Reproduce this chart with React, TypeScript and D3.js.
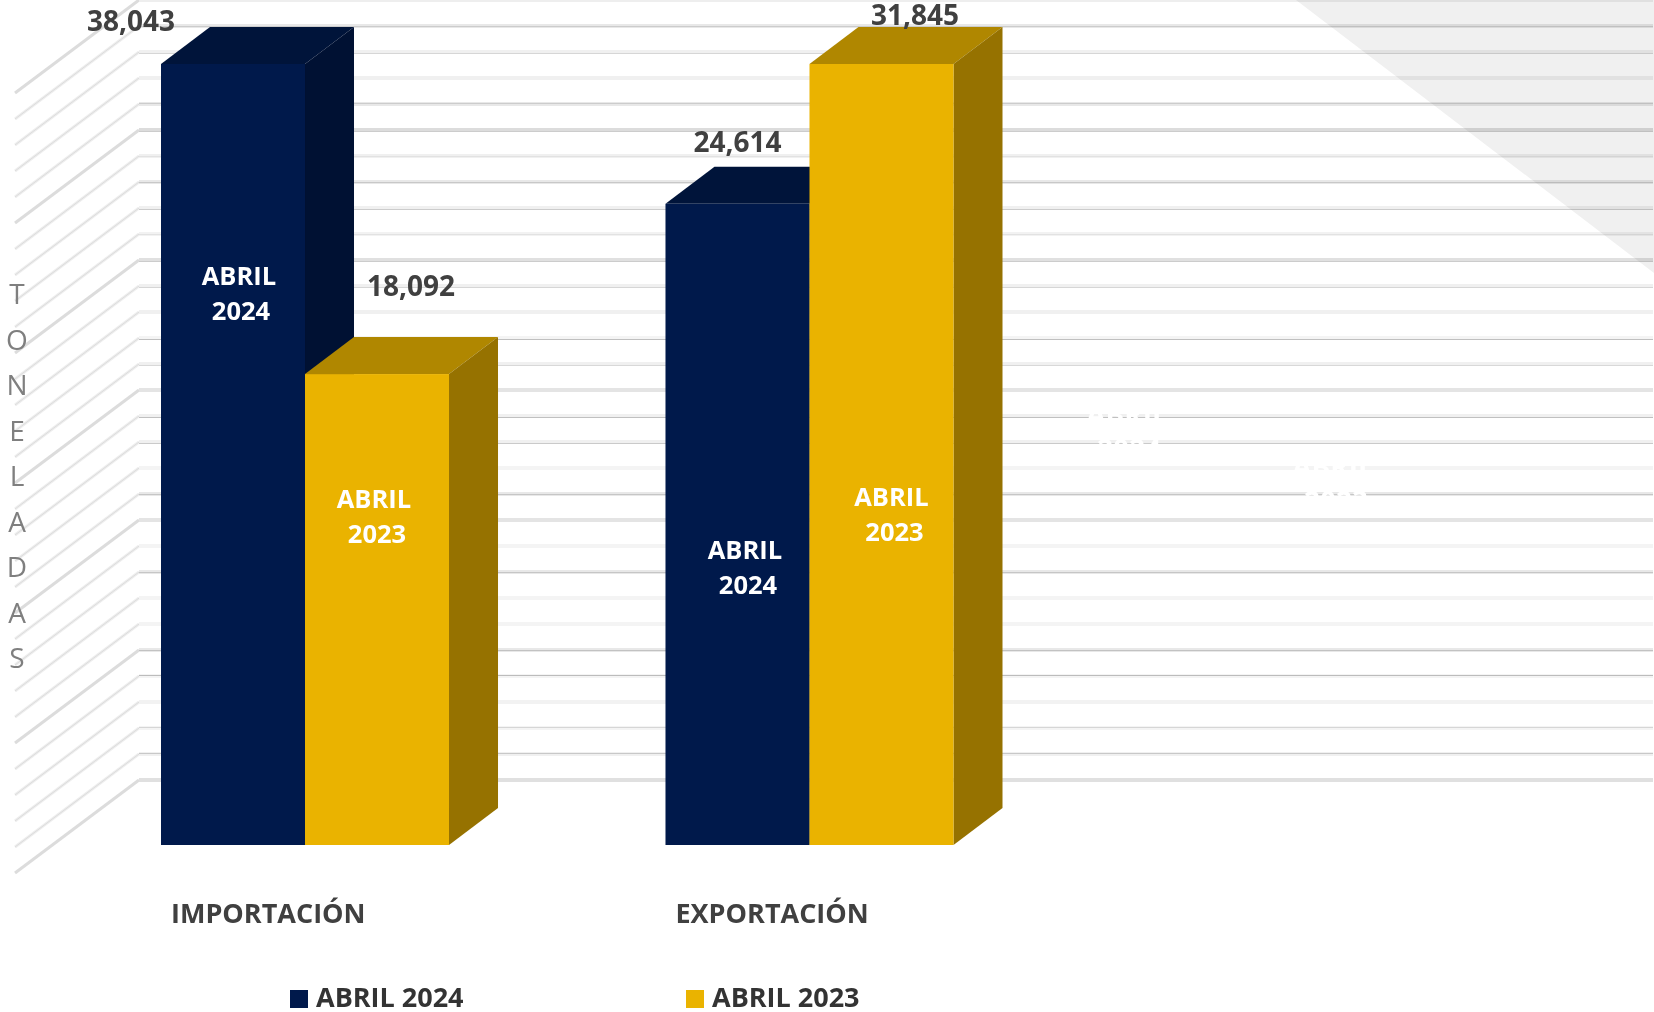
import React from "react";
import * as d3 from "d3";

const categories = ["IMPORTACIÓN", "EXPORTACIÓN"];
const seriesNames = ["ABRIL 2024", "ABRIL 2023"];

// printed values
const abril2024Labels = ["38,043", "24,614"];
const abril2023Labels = ["18,092", "31,845"];

// drawn height of each bar as % of the tallest one. The source picture does not
// draw the bars in proportion to the printed values, so these are read off it.
const abril2024Heights = [100, 82.1];
const abril2023Heights = [60.3, 100];

const axisTitle = ["T", "O", "N", "E", "L", "A", "D", "A", "S"];

const WIDTH = 1654;
const HEIGHT = 1012;
const FONT = "'Open Sans', sans-serif";
const TEXT = "#404040";
const DEPTH_X = 49;
const DEPTH_Y = 37;

const colors = [
  { front: "#00194b", top: "#00143a", side: "#001133" },
  { front: "#eab300", top: "#b08700", side: "#967200" },
];

// gridline look, top to bottom: band colour, line colour, line offset
const gridLook: [string, string, number][] = [
  ["#eeeeee", "", 0], ["#e8e8e8", "#cccccc", 0], ["#f0f0f0", "#d6d6d6", 1], ["#f0f0f0", "", 0],
  ["#e8e8e8", "#cccccc", -1], ["#dcdcdc", "#cccccc", 1], ["#f0f0f0", "#e2e2e2", 0], ["#e8e8e8", "#c8c8c8", 0],
  ["#f0f0f0", "#cccccc", 1], ["#f2f2f2", "#e2e2e2", 0], ["#e0e0e0", "#cccccc", 1], ["#f0f0f0", "#d6d6d6", 1],
  ["#f0f0f0", "", 0], ["#f4f4f4", "#c0c0c0", 1], ["#f0f0f0", "#d8d8d8", 1], ["#e4e4e4", "", 0],
  ["#f0f0f0", "#c0c0c0", 1], ["#f0f0f0", "#cacaca", 1], ["#f4f4f4", "", 0], ["#e8e8e8", "#c6c6c6", 0],
  ["#e4e4e4", "", 0], ["#f4f4f4", "", 0], ["#e8e8e8", "#c6c6c6", 0], ["#f4f4f4", "", 0],
  ["#f4f4f4", "", 0], ["#e8e8e8", "#c2c2c2", 0], ["#f4f4f4", "#bcbcbc", -1], ["#f2f2f2", "", 0],
  ["#f4f4f4", "#d6d6d6", -1], ["#f0f0f0", "#c8c8c8", -1], ["#e0e0e0", "", 0],
];

// inside-bar labels: [x of first line, x of second line, baseline of first line]
const insideLabels = [
  [[239, 241, 285], [374, 377, 508]],
  [[745, 748, 559], [891.5, 894.5, 506]],
];
// value labels: [centre x, baseline]
const valueLabelPos = [
  [[131, 31], [411, 296]],
  [[737.5, 152], [915, 25]],
];

const groupX = d3.scaleBand<string>().domain(categories).range([161, 953.5]).paddingInner(0.4291).paddingOuter(0).align(0);
const barX = d3.scaleBand<string>().domain(seriesNames).range([0, groupX.bandwidth()]);
const barY = d3.scaleLinear().domain([0, 100]).range([845, 64]);
const gridY = d3.scaleLinear().domain([0, 30]).range([780, 0]);
const outline = d3.line();

function Bar({ x, w, value, c }: { x: number; w: number; value: number; c: (typeof colors)[0] }) {
  const y0 = barY(0);
  const y1 = barY(value);
  return (
    <g>
      <path d={outline([[x, y1], [x + DEPTH_X, y1 - DEPTH_Y], [x + w + DEPTH_X, y1 - DEPTH_Y], [x + w, y1]]) + "Z"} fill={c.top} />
      <path d={outline([[x + w, y1], [x + w + DEPTH_X, y1 - DEPTH_Y], [x + w + DEPTH_X, y0 - DEPTH_Y], [x + w, y0]]) + "Z"} fill={c.side} />
      <rect x={x} y={y1} width={w} height={y0 - y1} fill={c.front} />
    </g>
  );
}

export default function App() {
  const series = [abril2024Heights, abril2023Heights];
  const labels = [abril2024Labels, abril2023Labels];
  const rows = d3.range(31).reverse();

  return (
    <svg
      width={WIDTH}
      height={HEIGHT}
      viewBox={`0 0 ${WIDTH} ${HEIGHT}`}
      style={{ position: "absolute", left: 0, top: 0, display: "block", background: "#fff" }}
      fontFamily={FONT}
    >
      {rows.map((r, i) => {
        const y = gridY(r);
        const [band, line, off] = gridLook[i];
        const heavy = r % 5 === 0;
        return (
          <g key={r}>
            <line x1={139} x2={15} y1={y} y2={y + 93} stroke={heavy ? "#dcdcdc" : "#eeeeee"} strokeWidth={3} />
            {!heavy && <line x1={139} x2={15} y1={y} y2={y + 93} stroke="#d0d0d0" strokeWidth={0.6} />}
            <rect x={139} y={y - 2} width={1514} height={4} fill={band} />
            {line && <line x1={139} x2={1653} y1={y + off + 0.5} y2={y + off + 0.5} stroke={line} strokeWidth={1} />}
          </g>
        );
      })}

      <path d={outline([[1296, 0], [1654, 0], [1654, 273]]) + "Z"} fill="#f0f0f0" style={{ mixBlendMode: "multiply" }} />

      {/* white labels of the hidden series, only visible where they cut the gridlines */}
      {[[1127, 1129, 425], [1333, 1336, 477]].map(([a, b, y], i) => (
        <g key={i} fill="#ffffff" fontSize={28} fontWeight={700} textAnchor="middle">
          <text x={a} y={y}>ABRIL</text>
          <text x={b} y={y + 35}>{i === 0 ? "2024" : "2023"}</text>
        </g>
      ))}

      {categories.map((cat, ci) =>
        seriesNames.map((s, si) => (
          <Bar key={cat + s} x={groupX(cat)! + barX(s)!} w={barX.bandwidth()} value={series[si][ci]} c={colors[si]} />
        ))
      )}

      {categories.map((cat, ci) => (
        <g key={cat} fontWeight={700}>
          {seriesNames.map((s, si) => {
            const [a, b, y] = insideLabels[ci][si];
            const [vx, vy] = valueLabelPos[ci][si];
            const [word, year] = s.split(" ");
            return (
              <g key={s}>
                <text x={vx} y={vy} textAnchor="middle" fontSize={28} fill={TEXT}>{labels[si][ci]}</text>
                <text x={a} y={y} textAnchor="middle" fontSize={25.5} fill="#fff">{word}</text>
                <text x={b} y={y + 35} textAnchor="middle" fontSize={25.5} fill="#fff">{year}</text>
              </g>
            );
          })}
          <text x={groupX(cat)! + 10} y={923} fontSize={27} fill={TEXT}>{cat}</text>
        </g>
      ))}

      {axisTitle.map((ch, i) => (
        <text key={i} x={17} y={304 + i * 45.5} textAnchor="middle" fontSize={28} fill="#7f7f7f">{ch}</text>
      ))}

      {seriesNames.map((s, i) => {
        const x = 290 + i * 396;
        return (
          <g key={s}>
            <rect x={x} y={990} width={18} height={18} fill={colors[i].front} />
            <text x={x + 26} y={1007} fontSize={27} fontWeight={700} fill="#333333">{s}</text>
          </g>
        );
      })}
    </svg>
  );
}
